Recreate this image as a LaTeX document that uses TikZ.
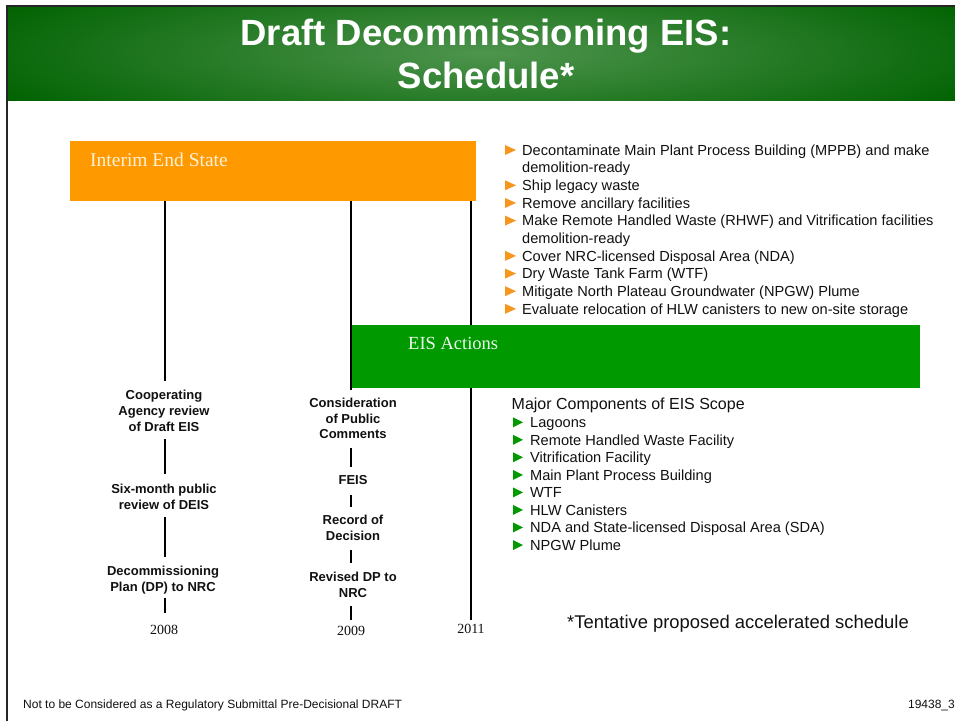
\documentclass[tikz,border=0pt]{standalone}
\usepackage{fontspec}
\setmainfont{Liberation Serif}
\setsansfont{Liberation Sans}
\definecolor{iesorange}{RGB}{255,153,0}
\definecolor{bulorange}{RGB}{247,150,30}
\definecolor{eisgreen}{RGB}{0,153,0}
\definecolor{hdark}{RGB}{0,98,0}
\definecolor{hlight}{RGB}{78,148,78}
\definecolor{iestext}{RGB}{255,240,215}
\definecolor{eistext}{RGB}{235,250,235}
\definecolor{bodytext}{RGB}{17,17,17}
\begin{document}
\begin{tikzpicture}[x=1pt,y=-1pt,
  tl/.style={line width=2.8pt, black},
  lbl/.style={font=\sffamily\bfseries\fontsize{13}{15.6}\selectfont, align=center, inner sep=0pt, anchor=north, text=bodytext},
  yr/.style={font=\fontsize{14}{16}\selectfont, inner sep=0pt, anchor=base, text=bodytext},
  bul/.style={font=\sffamily\fontsize{14.6}{17}\selectfont, anchor=base west, inner sep=0pt, text=bodytext},
  bartext/.style={anchor=base west, inner sep=0pt},
]
\useasboundingbox (0,0) rectangle (955,721);
\fill[white] (0,0) rectangle (955,721);
% header
\begin{scope}
\clip (8,7) rectangle (955,100);
\shade[inner color=hlight, outer color=hdark] (486,53) ellipse (560 and 95);
\end{scope}
\draw[line width=2pt, black!85] (7,721) -- (7,5.5) -- (955,5.5);
\node[font=\sffamily\bfseries\fontsize{36.5}{43}\selectfont, text=white, align=center, inner sep=0pt] (title) at (486,54.4) {Draft Decommissioning EIS:\\Schedule*};

% interim end state bar
\node[fill=iesorange, minimum width=406pt, minimum height=60pt, inner sep=0pt, anchor=north west] (ies) at (70,141) {};
\node[bartext, font=\fontsize{19.5}{21}\selectfont, text=iestext] (iesl) at (90,166) {Interim End State};

% timeline labels
\node[lbl] (coop) at (164,390.2) {Cooperating\\Agency review\\of Draft EIS};
\node[lbl] (sixm) at (164,484.2) {Six-month public\\review of DEIS};
\node[lbl] (dp) at (163,566.2) {Decommissioning\\Plan (DP) to NRC};
\node[lbl] (cons) at (353,397.9) {Consideration\\of Public\\Comments};
\node[lbl] (feis) at (353,475.2) {FEIS};
\node[lbl] (rod) at (353,515.2) {Record of\\Decision};
\node[lbl] (rdp) at (353,571.9) {Revised DP to\\NRC};
\node[yr] (y08) at (164,634) {2008};
\node[yr] (y09) at (351,635.4) {2009};
\node[yr] (y11) at (471,633.7) {2011};

% column 1 (2008)
\coordinate (c1a) at (165,381);
\coordinate (c1b) at (165,439);
\coordinate (c1c) at (165,474);
\coordinate (c1d) at (165,517);
\coordinate (c1e) at (165,557);
\coordinate (c1f) at (165,598);
\coordinate (c1g) at (165,613);
\draw[tl] (ies.south -| c1a) -- (c1a);
\draw[tl] (c1b) -- (c1c);
\draw[tl] (c1d) -- (c1e);
\draw[tl] (c1f) -- (c1g);
% column 2 (2009)
\coordinate (c2a) at (351,390);
\coordinate (c2b) at (351,448);
\coordinate (c2c) at (351,467);
\coordinate (c2d) at (351,495);
\coordinate (c2e) at (351,507);
\coordinate (c2f) at (351,550);
\coordinate (c2g) at (351,563);
\coordinate (c2h) at (351,606);
\coordinate (c2i) at (351,620);
\draw[tl] (ies.south -| c2a) -- (c2a);
\draw[tl] (c2b) -- (c2c);
\draw[tl] (c2d) -- (c2e);
\draw[tl] (c2f) -- (c2g);
\draw[tl] (c2h) -- (c2i);
% column 3 (2011)
\coordinate (c3a) at (471,620);
\draw[tl] (ies.south -| c3a) -- (c3a);

% EIS actions bar
\node[fill=eisgreen, minimum width=568pt, minimum height=63pt, inner sep=0pt, anchor=north west] (eis) at (352,325) {};
\node[bartext, font=\fontsize{18.5}{20}\selectfont, text=eistext] (eisl) at (408,349.5) {EIS Actions};

% top bullet list
\foreach \i/\t/\b in {0/{Decontaminate Main Plant Process Building (MPPB) and make}/1,
  1/{demolition-ready}/0,
  2/{Ship legacy waste}/1,
  3/{Remove ancillary facilities}/1,
  4/{Make Remote Handled Waste (RHWF) and Vitrification facilities}/1,
  5/{demolition-ready}/0,
  6/{Cover NRC-licensed Disposal Area (NDA)}/1,
  7/{Dry Waste Tank Farm (WTF)}/1,
  8/{Mitigate North Plateau Groundwater (NPGW) Plume}/1,
  9/{Evaluate relocation of HLW canisters to new on-site storage}/1}{
  \pgfmathsetmacro{\yc}{150+17.65*\i}
  \node[bul] (t\i) at (522,\yc+5.2) {\t};
  \ifnum\b=1
    \fill[bulorange] (505,\yc-5) -- (516,\yc) -- (505,\yc+5) -- cycle;
  \fi
}

% scope list
\node[font=\sffamily\fontsize{16}{18}\selectfont, anchor=base west, inner sep=0pt, text=bodytext] (scope) at (511.5,409.7) {Major Components of EIS Scope};
\foreach \i/\t in {0/{Lagoons},
  1/{Remote Handled Waste Facility},
  2/{Vitrification Facility},
  3/{Main Plant Process Building},
  4/{WTF},
  5/{HLW Canisters},
  6/{NDA and State-licensed Disposal Area (SDA)},
  7/{NPGW Plume}}{
  \pgfmathsetmacro{\yc}{422.3+17.53*\i}
  \node[bul] (s\i) at (530,\yc+5.2) {\t};
  \fill[eisgreen] (513,\yc-5) -- (523,\yc) -- (513,\yc+5) -- cycle;
}

\node[font=\sffamily\fontsize{18.4}{21}\selectfont, anchor=base west, inner sep=0pt, text=bodytext] (tent) at (567,628.3) {*Tentative proposed accelerated schedule};

% footer
\node[font=\sffamily\fontsize{12}{14}\selectfont, anchor=base west, inner sep=0pt, text=bodytext] (foot) at (23,708.3) {Not to be Considered as a Regulatory Submittal Pre-Decisional DRAFT};
\node[font=\sffamily\fontsize{12}{14}\selectfont, anchor=base east, inner sep=0pt, text=bodytext] (num) at (955,708.3) {19438\_3};
\end{tikzpicture}
\end{document}
